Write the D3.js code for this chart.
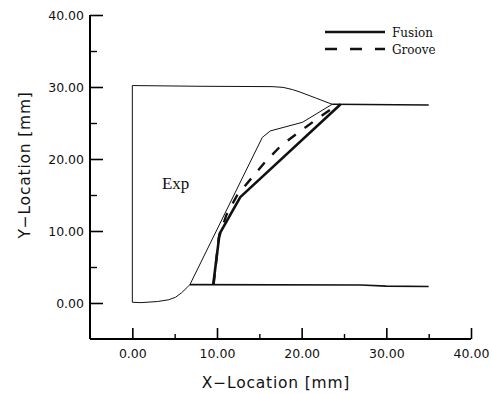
<!DOCTYPE html>
<html>
<head>
<meta charset="utf-8">
<script src="https://cdn.jsdelivr.net/npm/d3@7"></script>
<style>
  body { margin: 0; background: #fff; }
  svg { display: block; }
</style>
</head>
<body>
<div id="chart"></div>
<script>
const width = 492;
const height = 394;

// tick values
const majorTicks = [0, 10, 20, 30, 40];
const minorTicks = [5, 15, 25, 35];

// experimental weld outline (thin line)
const expX = [23.6, 21.6, 19.8, 18.9, 17.8, 16.5, 8.0, 0.0, 0.0, 1.0, 2.95, 4.3, 5.1, 5.8, 6.5, 6.8, 15.35, 16.3, 20.1, 23.6];
const expY = [27.6, 28.5, 29.3, 29.65, 29.95, 30.05, 30.1, 30.2, 0.1, 0.05, 0.2, 0.45, 0.8, 1.4, 2.2, 2.55, 23.0, 23.9, 25.1, 27.6];

// plate surfaces
const topX = [23.6, 35.0];
const topY = [27.6, 27.5];
const bottomX = [6.8, 27.0, 30.0, 35.0];
const bottomY = [2.55, 2.5, 2.35, 2.3];

// computed boundaries
const fusionX = [9.56, 10.3, 12.75, 24.6];
const fusionY = [2.6, 9.6, 14.7, 27.6];
const grooveX = [9.6, 10.2, 11.1, 12.4, 15.7, 17.6, 20.0, 22.1, 24.2];
const grooveY = [2.6, 9.0, 12.2, 15.0, 19.6, 21.9, 24.0, 25.8, 27.5];

const legendNames = ["Fusion", "Groove"];

const x = d3.scaleLinear([-5, 40], [90, 471]);
const y = d3.scaleLinear([-5, 40], [339, 15]);

const svg = d3.select("#chart").append("svg")
    .attr("width", width)
    .attr("height", height)
    .attr("viewBox", [0, 0, width, height]);

const tickFont = "DejaVu Sans, sans-serif";

// y axis
svg.append("g")
    .attr("transform", `translate(${x(-5)},0)`)
    .call(d3.axisLeft(y).tickValues(majorTicks).tickSize(-13).tickPadding(6)
        .tickFormat(d3.format(".2f")))
    .call(g => g.select(".domain").attr("d", `M0,${y(40)}V${y(-5)}`).attr("stroke-width", 2))
    .call(g => g.selectAll(".tick line").attr("stroke-width", 1.6))
    .call(g => g.selectAll("text").attr("font-size", 12.5).attr("font-family", tickFont).attr("fill", "#111"));

svg.append("g")
    .attr("transform", `translate(${x(-5)},0)`)
    .call(d3.axisLeft(y).tickValues(minorTicks).tickSize(-7).tickFormat(""))
    .call(g => g.select(".domain").remove())
    .call(g => g.selectAll(".tick line").attr("stroke-width", 1.4));

// x axis
svg.append("g")
    .attr("transform", `translate(0,${y(-5)})`)
    .call(d3.axisBottom(x).tickValues(majorTicks).tickSize(-11).tickPadding(10)
        .tickFormat(d3.format(".2f")))
    .call(g => g.select(".domain").attr("d", `M${x(-5)},0H${x(40)}`).attr("stroke-width", 2))
    .call(g => g.selectAll(".tick line").attr("stroke-width", 1.6))
    .call(g => g.selectAll("text").attr("font-size", 12.5).attr("font-family", tickFont).attr("fill", "#111"));

svg.append("g")
    .attr("transform", `translate(0,${y(-5)})`)
    .call(d3.axisBottom(x).tickValues(minorTicks).tickSize(-5).tickFormat(""))
    .call(g => g.select(".domain").remove())
    .call(g => g.selectAll(".tick line").attr("stroke-width", 1.4));

// axis titles
svg.append("text")
    .attr("x", 276)
    .attr("y", 388)
    .attr("text-anchor", "middle")
    .attr("font-family", tickFont)
    .attr("font-size", 15.5)
    .attr("letter-spacing", 0.8)
    .attr("fill", "#111")
    .text("X\u2212Location [mm]");

svg.append("text")
    .attr("transform", `translate(30,165) rotate(-90)`)
    .attr("text-anchor", "middle")
    .attr("font-family", tickFont)
    .attr("font-size", 15.5)
    .attr("letter-spacing", 0.8)
    .attr("fill", "#111")
    .text("Y\u2212Location [mm]");

const line = d3.line().x(d => x(d[0])).y(d => y(d[1]));
const pts = (xs, ys) => xs.map((v, i) => [v, ys[i]]);

svg.append("path")
    .attr("d", line(pts(expX, expY)))
    .attr("fill", "none")
    .attr("stroke", "#111")
    .attr("stroke-width", 1)
    .attr("stroke-linejoin", "round");

svg.append("path")
    .attr("d", line(pts(topX, topY)))
    .attr("fill", "none")
    .attr("stroke", "#111")
    .attr("stroke-width", 1.6);

svg.append("path")
    .attr("d", line(pts(bottomX, bottomY)))
    .attr("fill", "none")
    .attr("stroke", "#111")
    .attr("stroke-width", 1.6);

svg.append("path")
    .attr("d", line(pts(grooveX, grooveY)))
    .attr("fill", "none")
    .attr("stroke", "#111")
    .attr("stroke-width", 2.4)
    .attr("stroke-dasharray", "10,11");

svg.append("path")
    .attr("d", line(pts(fusionX, fusionY)))
    .attr("fill", "none")
    .attr("stroke", "#111")
    .attr("stroke-width", 2.6)
    .attr("stroke-linejoin", "round");

svg.append("text")
    .attr("x", x(3.5))
    .attr("y", y(15.8))
    .attr("font-family", "Liberation Serif, serif")
    .attr("font-size", 17)
    .attr("fill", "#111")
    .text("Exp");

// legend
const legend = svg.append("g").attr("transform", "translate(325,32)");
legendNames.forEach((name, i) => {
    const g = legend.append("g").attr("transform", `translate(0,${i * 17})`);
    g.append("line")
        .attr("x1", 0).attr("x2", 60)
        .attr("stroke", "#111")
        .attr("stroke-width", 2.6)
        .attr("stroke-dasharray", i === 1 ? "12,13" : null);
    g.append("text")
        .attr("x", 67)
        .attr("y", 5)
        .attr("font-family", "DejaVu Serif, serif")
        .attr("font-size", 12)
        .attr("fill", "#111")
        .text(name);
});
</script>
</body>
</html>
